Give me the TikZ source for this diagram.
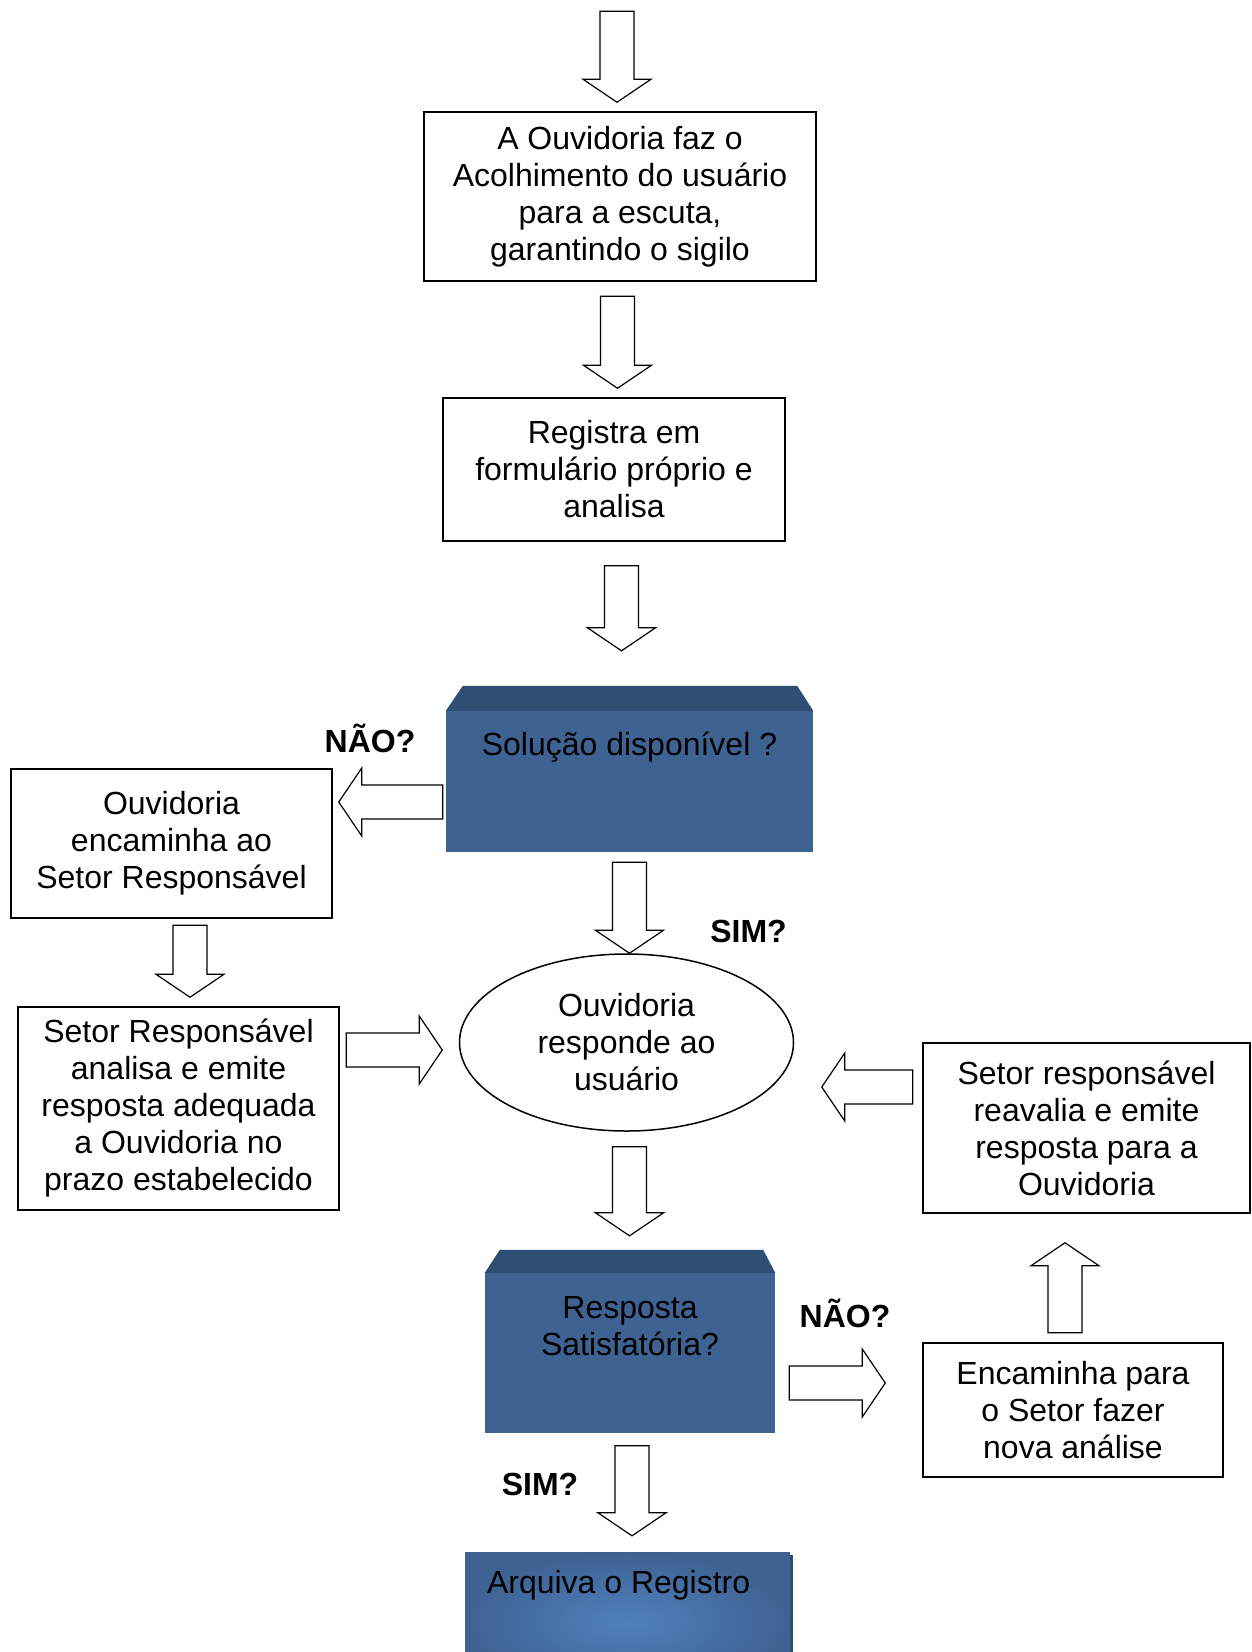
\documentclass[tikz,border=0pt]{standalone}
\usepackage{fontspec}
\setmainfont{Liberation Sans}
\definecolor{box_c}{rgb}{
	0.2431, 0.3843, 0.5725
	}
\definecolor{top_c}{rgb}{
	0.1843, 0.3059, 0.4549
	}
\definecolor{glow_c}{rgb}{
	0.3137, 0.5020, 0.7412
	}
\usetikzlibrary{calc,
		positioning,
		shapes.geometric}

\begin{document}
\begin{tikzpicture}[
			x=1pt, y=-1pt,
			font=\fontsize{32}{37}\selectfont,
			box/.style = {draw, line width=1.5pt, align=center, inner sep=0pt},
			panel/.style = {fill=box_c, inner sep=0pt},
			note/.style = {font=\bfseries\fontsize{32}{37}\selectfont, anchor=base},
			blockarrow/.pic = {
				\draw[line width=1.2pt, fill=white, line join=miter]
				(0,0) -- (-23,34) -- (-23,17) -- (-#1,17) -- (-#1,-17) -- (-23,-17) -- (-23,-34) -- cycle;
				},
			]
			\useasboundingbox (0,0) rectangle (1251,1652);
			% boxes
			\node[box, minimum width=392pt, minimum height=169pt] (acolhe) at (620,196.5)
			      {A Ouvidoria faz o\\Acolhimento do usuário\\para a escuta,\\garantindo o sigilo};
			\node[box, minimum width=342pt, minimum height=143pt] (registra) at (614,469.5)
			      {Registra em\\formulário próprio e\\analisa};
			\node[panel] (solucao) at (629.5,781.5)
			      {\parbox[c][141pt][t]{367pt}{\centering\vspace*{21pt}Solução disponível ?}};
			\node[box, minimum width=321pt, minimum height=149pt] (encaminha) at (171.5,843.5)
			      {Ouvidoria\\encaminha ao\\Setor Responsável};
			\node[box, minimum width=321pt, minimum height=203pt] (analisa) at (178.5,1108.5)
			      {Setor Responsável\\analisa e emite\\resposta adequada\\a Ouvidoria no\\prazo estabelecido};
			\node[box, ellipse, minimum width=334pt, minimum height=177pt] (responde) at (626.5,1042.5)
			      {Ouvidoria\\responde ao\\usuário};
			\node[box, minimum width=327pt, minimum height=170pt] (reavalia) at (1086.5,1128)
			      {Setor responsável\\reavalia e emite\\resposta para a\\Ouvidoria};
			\node[panel] (resposta) at (630,1353)
			      {\parbox[c][160pt][t]{290pt}{\centering\vspace*{23pt}Resposta\\Satisfatória?}};
			\node[box, minimum width=300pt, minimum height=134pt] (nova) at (1073,1410)
			      {Encaminha para\\o Setor fazer\\nova análise};
			\node[panel, inner color=glow_c, outer color=box_c] (arquiva) at (627.5,1622)
			      {\parbox[c][140pt][t]{325pt}{\vspace*{18pt}\hspace*{22pt}Arquiva o Registro}};
			% tops
			\fill[top_c] (solucao.north west) -- ++(17,-25) -- ($(solucao.north east)+(-16,-25)$) -- (solucao.north east) -- cycle;
			\fill[top_c] (resposta.north west) -- ++(15,-23) -- ($(resposta.north east)+(-12,-23)$) -- (resposta.north east) -- cycle;
			\fill[top_c] ($(arquiva.north east)+(0,3)$) rectangle ($(arquiva.south east)+(3,0)$);
			% arrows
			\pic[rotate=-90] at ($(acolhe.north)+(-3,-9)$) {blockarrow=91};
			\pic[rotate=-90] at ($(registra.north)+(3.5,-9)$) {blockarrow=92};
			\pic[rotate=-90] at ($(solucao.north)+(-8,-60)$) {blockarrow=85};
			\pic[rotate=180] at ($(encaminha.east)+(6,-41.5)$) {blockarrow=104};
			\pic[rotate=-90] at ($(analisa.north)+(11.5,-9)$) {blockarrow=72};
			\pic at ($(responde.west)+(-16.5,7.5)$) {blockarrow=96};
			\pic[rotate=-90] at ($(responde.north)+(3,0)$) {blockarrow=91};
			\pic[rotate=180] at ($(responde.east)+(27.5,44.5)$) {blockarrow=91};
			\pic[rotate=90] at ($(reavalia.south)+(-21.5,29)$) {blockarrow=90};
			\pic[rotate=-90] at ($(resposta.north)+(-0.5,-37)$) {blockarrow=89};
			\pic at ($(nova.west)+(-37,-27)$) {blockarrow=96};
			\pic[rotate=-90] at ($(arquiva.north)+(4.5,-16)$) {blockarrow=90};
			% notes
			\node[note] (nao_a) at (370,752) {NÃO?};
			\node[note] (sim_a) at (748.5,942) {SIM?};
			\node[note] (nao_b) at (845,1327) {NÃO?};
			\node[note] (sim_b) at (540,1495) {SIM?};
		\end{tikzpicture}
\end{document}
